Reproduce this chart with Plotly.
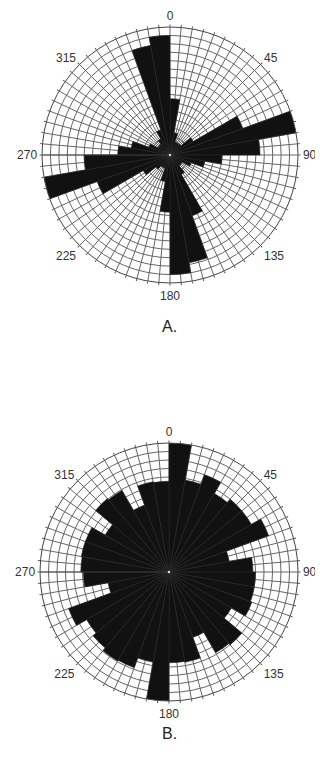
import plotly.graph_objects as go

# Bin start angles (degrees, clockwise from north), 10-degree bins
bin_starts = list(range(0, 360, 10))

# Panel A frequencies per 10-degree bin
values_a = [6.5, 2.5, 1.5, 1.5, 1.5, 3, 9, 15, 10.5, 6,
            4, 2.5, 1.5, 1.5, 2.5, 7.5, 12.8, 14, 6.6, 3,
            1.5, 1.5, 2, 3.5, 9, 15, 10, 6, 4.5, 2.5,
            1.5, 1.5, 2, 3, 13, 14]

# Panel B frequencies per 10-degree bin
values_b = [15, 10.8, 12, 10.5, 11, 11, 12.3, 7, 9.7, 10,
            10, 10.2, 8.3, 11, 10.8, 8, 10.6, 10.5, 15, 10.6,
            11.8, 11.9, 11.5, 11, 12.4, 7.1, 9.9, 10.2, 10.3, 10.3,
            8.5, 11.1, 10.9, 8.2, 10.6, 10.5]

angle_ticks = list(range(0, 360, 5))
angle_labels = [str(v) if v % 45 == 0 else "" for v in angle_ticks]
panel_labels = ["A.", "B."]
radial_max = 15

theta_centers = [b + 5 for b in bin_starts]

fig = go.Figure()
fig.add_trace(go.Barpolar(r=values_a, theta=theta_centers, width=[10] * len(bin_starts),
                          marker=dict(color="#111111", line=dict(color="#2a2a2a", width=0.6)),
                          subplot="polar", showlegend=False))
fig.add_trace(go.Barpolar(r=values_b, theta=theta_centers, width=[10] * len(bin_starts),
                          marker=dict(color="#111111", line=dict(color="#2a2a2a", width=0.6)),
                          subplot="polar2", showlegend=False))

# page body has an 8px margin, so the figure is a bit smaller and offset
OFF = 8
W, H = 323 - OFF, 763 - OFF
FONT = "Liberation Sans, Arial"


def polar_cfg(cx, cy, rad, tlen):
    cx -= OFF
    cy -= OFF
    return dict(
        domain=dict(x=[(cx - rad) / W, (cx + rad) / W], y=[1 - (cy + rad) / H, 1 - (cy - rad) / H]),
        bgcolor="white",
        hole=0.012,
        angularaxis=dict(
            rotation=90, direction="clockwise",
            tickmode="array", tickvals=angle_ticks, ticktext=angle_labels,
            showgrid=True, gridcolor="#666666", gridwidth=0.9,
            showline=True, linecolor="#444444", linewidth=1,
            ticks="outside", ticklen=tlen, tickcolor="#555555", tickwidth=0.8,
            tickfont=dict(family=FONT, size=12, color="#333333"),
        ),
        radialaxis=dict(
            range=[0, radial_max], tick0=0, dtick=1,
            showgrid=True, gridcolor="#666666", gridwidth=0.9,
            showticklabels=False, ticks="", showline=True, linecolor="#444444",
            linewidth=0.8, angle=180,
        ),
    )


fig.update_layout(
    width=W, height=H,
    margin=dict(l=0, r=0, t=0, b=0),
    paper_bgcolor="white", plot_bgcolor="white",
    polar=polar_cfg(170, 155, 128, 2),
    polar2=polar_cfg(169, 572, 129, 2),
    annotations=[
        dict(text=panel_labels[0], x=(170 - OFF) / W, y=1 - (326 - OFF) / H, xref="paper", yref="paper",
             showarrow=False, font=dict(family=FONT, size=16, color="#222222")),
        dict(text=panel_labels[1], x=(170 - OFF) / W, y=1 - (744 - OFF) / H, xref="paper", yref="paper",
             showarrow=False, font=dict(family=FONT, size=16, color="#222222")),
    ],
)

fig.write_html("out.html")
